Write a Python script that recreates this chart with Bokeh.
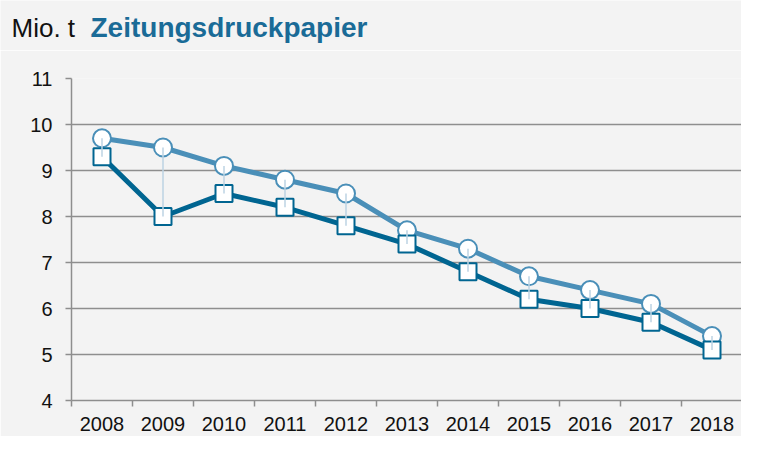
from bokeh.plotting import figure
from bokeh.models import Range1d, FixedTicker, Label
from bokeh.layouts import column
from bokeh.embed import file_html
from bokeh.resources import INLINE

years = ["2008", "2009", "2010", "2011", "2012", "2013", "2014", "2015", "2016", "2017", "2018"]
upper = [9.7, 9.5, 9.1, 8.8, 8.5, 7.7, 7.3, 6.7, 6.4, 6.1, 5.4]
lower = [9.3, 8.0, 8.5, 8.2, 7.8, 7.4, 6.8, 6.2, 6.0, 5.7, 5.1]
y_ticks = [4, 5, 6, 7, 8, 9, 10, 11]

xs = list(range(len(years)))

BG = "#F3F3F3"
GRID = "#8E8E8E"
C_UP = "#4A8FB8"
C_LO = "#006591"
C_CONN = "#BCD3E3"
C_TITLE = "#1A6B97"
FONT = "Liberation Sans"

W = 741
TH = 50          # title strip height
H = 436 - TH     # chart height
left, top, bottom = 71, 28, 36
frame_w = W - left
cat_w = 61.0

# ---- title strip ----
t = figure(width=W, height=TH, output_backend="svg", toolbar_location=None,
           title_location=None,
           x_range=Range1d(0, W), y_range=Range1d(0, TH),
           x_axis_type=None, y_axis_type=None,
           min_border=0)
t.frame_align = False
t.background_fill_color = BG
t.border_fill_color = BG
t.outline_line_color = None
t.grid.grid_line_color = None
t.add_layout(Label(x=11, y=23, text="Mio. t", text_font=FONT,
                   text_font_size="26px", text_color="#111111",
                   text_baseline="alphabetic", text_align="left"))
t.add_layout(Label(x=90, y=23, text="Zeitungsdruckpapier", text_font=FONT,
                   text_font_size="28px", text_font_style="bold", text_color=C_TITLE,
                   text_baseline="alphabetic", text_align="left"))

# ---- chart ----
p = figure(width=W, height=H, output_backend="svg", toolbar_location=None,
           title_location=None,
           x_range=Range1d(-0.5, -0.5 + frame_w / cat_w), y_range=Range1d(4, 11),
           min_border_left=left, min_border_right=0, min_border_top=top,
           min_border_bottom=bottom)
p.frame_align = False
p.background_fill_color = BG
p.border_fill_color = BG
p.outline_line_color = None

p.xgrid.grid_line_color = None
p.ygrid.ticker = FixedTicker(ticks=y_ticks)
p.ygrid.grid_line_color = GRID
p.ygrid.grid_line_width = 1.5

p.yaxis.ticker = FixedTicker(ticks=y_ticks)
p.yaxis.axis_line_color = GRID
p.yaxis.axis_line_width = 1.5
p.yaxis.major_tick_line_color = GRID
p.yaxis.major_tick_line_width = 1.5
p.yaxis.major_tick_out = 6
p.yaxis.major_tick_in = 0
p.yaxis.minor_tick_line_color = None
p.yaxis.major_label_standoff = 13
p.yaxis.major_label_text_font = FONT
p.yaxis.major_label_text_font_size = "20px"
p.yaxis.major_label_text_color = "#111111"

bounds = [i - 0.5 for i in range(len(years) + 1)]
p.xaxis.ticker = FixedTicker(ticks=xs, minor_ticks=bounds)
p.xaxis.major_label_overrides = {i: y for i, y in zip(xs, years)}
p.xaxis.axis_line_color = GRID
p.xaxis.axis_line_width = 1.5
p.xaxis.major_tick_line_color = None
p.xaxis.major_tick_out = 6
p.xaxis.major_tick_in = 0
p.xaxis.minor_tick_line_color = GRID
p.xaxis.minor_tick_line_width = 1.5
p.xaxis.minor_tick_out = 6
p.xaxis.minor_tick_in = 0
p.xaxis.major_label_standoff = 10
p.xaxis.major_label_text_font = FONT
p.xaxis.major_label_text_font_size = "20px"
p.xaxis.major_label_text_color = "#111111"

p.line(xs, upper, line_color=C_UP, line_width=5)
p.scatter(xs, upper, marker="circle", size=18, fill_color="white",
          line_color=C_UP, line_width=2)
p.line(xs, lower, line_color=C_LO, line_width=5)
p.scatter(xs, lower, marker="square", size=17, fill_color="white",
          line_color=C_LO, line_width=2)
p.segment(x0=xs, y0=upper, x1=xs, y1=lower, line_color=C_CONN, line_width=1.5)

layout = column(t, p, spacing=0)
open("out.html", "w").write(file_html(layout, INLINE))
